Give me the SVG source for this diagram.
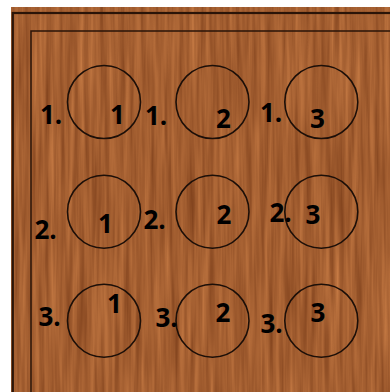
<svg xmlns="http://www.w3.org/2000/svg" width="390" height="392" viewBox="0 0 390 392">
  <defs>
    <filter id="wood" x="0" y="0" width="100%" height="100%" filterUnits="objectBoundingBox" color-interpolation-filters="sRGB">
      <feTurbulence type="fractalNoise" baseFrequency="0.2 0.008" numOctaves="3" seed="7" result="n"/>
      <feColorMatrix in="n" type="matrix" values="0.32 0 0 0 0.48  0.26 0 0 0 0.24  0.18 0 0 0 0.1  0 0 0 0 1"/>
    </filter>
  </defs>
  <style>
    .hole { fill: none; stroke: #1c0f08; stroke-width: 1.6; }
    .lbl { font-family: "Open Sans", "Liberation Sans", sans-serif; font-weight: 700; font-size: 26px; fill: #000; }
    .frame { fill: none; stroke: #2a1408; }
  </style>
  <rect x="0" y="0" width="390" height="392" fill="#ffffff"/>
  <rect x="11" y="7" width="379" height="385" fill="#a0602f"/>
  <rect x="11" y="7" width="379" height="385" filter="url(#wood)"/>
  <g id="frame">
    <rect class="frame" x="12.8" y="13" width="400" height="400" stroke-width="2.2"/>
    <rect class="frame" x="31" y="31" width="400" height="400" stroke-width="1.5"/>
  </g>
  <g id="connectors"/>
  <g id="cell-1-1">
    <circle class="hole" cx="104" cy="102" r="36.5"/>
    <text class="lbl" x="40" y="124">1.</text>
    <text class="lbl" x="110" y="124">1</text>
  </g>
  <g id="cell-1-2">
    <circle class="hole" cx="212.5" cy="102" r="36.5"/>
    <text class="lbl" x="145" y="125">1.</text>
    <text class="lbl" x="216" y="128">2</text>
  </g>
  <g id="cell-1-3">
    <circle class="hole" cx="321.3" cy="102" r="36.5"/>
    <text class="lbl" x="260" y="122">1.</text>
    <text class="lbl" x="310" y="128">3</text>
  </g>
  <g id="cell-2-1">
    <circle class="hole" cx="104" cy="211.7" r="36.5"/>
    <text class="lbl" x="34.5" y="239">2.</text>
    <text class="lbl" x="98" y="233">1</text>
  </g>
  <g id="cell-2-2">
    <circle class="hole" cx="212.5" cy="211.7" r="36.5"/>
    <text class="lbl" x="143.5" y="229">2.</text>
    <text class="lbl" x="216.5" y="224">2</text>
  </g>
  <g id="cell-2-3">
    <circle class="hole" cx="321.3" cy="211.7" r="36.5"/>
    <text class="lbl" x="269.5" y="222">2.</text>
    <text class="lbl" x="305.5" y="224">3</text>
  </g>
  <g id="cell-3-1">
    <circle class="hole" cx="104" cy="320.7" r="36.5"/>
    <text class="lbl" x="38.5" y="326">3.</text>
    <text class="lbl" x="107" y="313">1</text>
  </g>
  <g id="cell-3-2">
    <circle class="hole" cx="212.5" cy="320.7" r="36.5"/>
    <text class="lbl" x="155.5" y="327">3.</text>
    <text class="lbl" x="215.5" y="322">2</text>
  </g>
  <g id="cell-3-3">
    <circle class="hole" cx="321.3" cy="320.7" r="36.5"/>
    <text class="lbl" x="260.5" y="333">3.</text>
    <text class="lbl" x="310.5" y="322">3</text>
  </g>
</svg>
